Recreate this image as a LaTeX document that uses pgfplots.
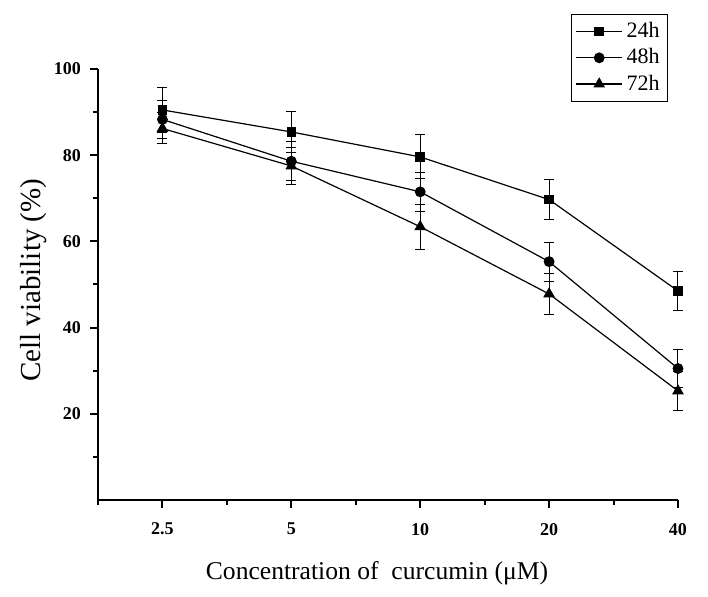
\documentclass[border=0pt]{standalone}
\usepackage{pgfplots}
\pgfplotsset{compat=1.18}
\usepackage{fontspec}
\setmainfont{Liberation Serif}
\begin{document}
\begin{tikzpicture}
\path[use as bounding box] (0,0) rectangle (354pt,298pt);
\begin{axis}[
  at={(49pt,48pt)}, anchor=south west,
  scale only axis, width=290pt, height=215.5pt,
  xmin=-0.5, xmax=4, ymin=0, ymax=100,
  axis x line*=bottom, axis y line*=left,
  axis line style={line width=1.2pt},
  xtick={0,1,2,3,4}, xticklabels={2.5,5,10,20,40},
  minor xtick={-0.5,0.5,1.5,2.5,3.5},
  ytick={20,40,60,80,100},
  minor ytick={10,30,50,70,90},
  tick align=outside,
  major tick length=4pt, minor tick length=2.5pt,
  every tick/.style={line width=1pt, black},
  /pgf/number format/assume math mode=true,
  ticklabel style={font=\bfseries\fontsize{9}{10}\selectfont},
  xticklabel style={yshift=-4pt},
  yticklabel style={xshift=-1pt},
  xlabel={Concentration of \ curcumin (μM)},
  ylabel={Cell viability (\%)},
  xlabel style={font=\fontsize{12.8}{15}\selectfont, at={(axis description cs:0.481,0)}, anchor=center, yshift=-36.5pt},
  ylabel style={font=\fontsize{14.5}{16}\selectfont, at={(axis description cs:0,0.51)}, anchor=center, rotate=0, yshift=32pt},
  legend style={at={(axis description cs:0.816,1.128)}, anchor=north west,
    draw=black, line width=0.6pt, font=\fontsize{11}{12}\selectfont,
    row sep=0pt, inner sep=2pt},
  legend cell align=left,
  legend image code/.code={\draw[mark repeat=2,mark phase=2] plot coordinates {(0cm,0cm) (0.4cm,0cm) (0.8cm,0cm)};},
  error bars/error bar style={line width=0.5pt, black},
  error bars/error mark options={rotate=90, mark size=2.5pt, line width=0.5pt},
  clip=false,
]
\addplot[black, line width=0.6pt, mark=square*, mark size=2.1pt, mark options={solid, fill=black},
  error bars/.cd, y dir=both, y explicit]
  coordinates {(0,90.5) +- (0,5.3) (1,85.4) +- (0,4.8) (2,79.6) +- (0,5.1) (3,69.7) +- (0,4.6) (4,48.5) +- (0,4.5)};
\addlegendentry{24h}
\addplot[black, line width=0.6pt, mark=*, mark size=2.4pt, mark options={solid, fill=black},
  error bars/.cd, y dir=both, y explicit]
  coordinates {(0,88.3) +- (0,4.5) (1,78.6) +- (0,4.5) (2,71.5) +- (0,4.5) (3,55.3) +- (0,4.5) (4,30.5) +- (0,4.4)};
\addlegendentry{48h}
\addplot[black, line width=0.6pt, mark=triangle*, mark size=2.8pt, mark options={solid, fill=black},
  error bars/.cd, y dir=both, y explicit]
  coordinates {(0,86.2) +- (0,3.6) (1,77.5) +- (0,4.2) (2,63.4) +- (0,5.2) (3,47.8) +- (0,4.8) (4,25.3) +- (0,4.5)};
\addlegendentry{72h}
\end{axis}
\end{tikzpicture}
\end{document}
